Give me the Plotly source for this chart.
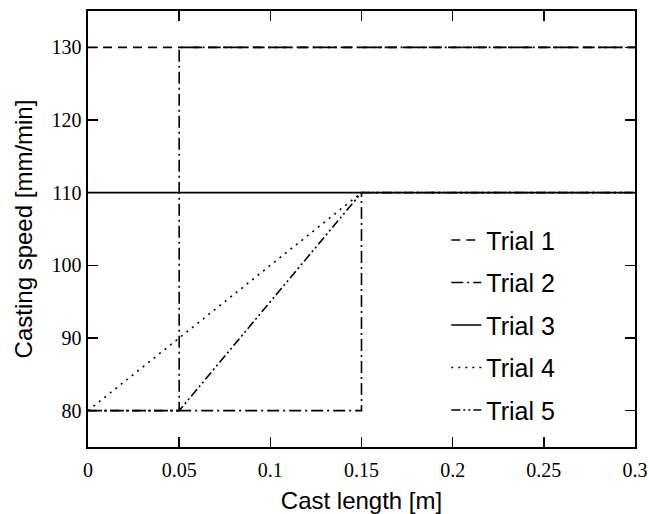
import plotly.graph_objects as go

# Data
trial1_x = [0, 0.3]
trial1_y = [130, 130]
trial2_x = [0, 0.05, 0.05, 0.3]
trial2_y = [80, 80, 130, 130]
trial3_x = [0, 0.3]
trial3_y = [110, 110]
trial4_x = [0, 0.15, 0.3]
trial4_y = [80, 110, 110]
trial5_x = [0, 0.05, 0.15, 0.3]
trial5_y = [80, 80, 110, 110]
step_x = [0.05, 0.15, 0.15]
step_y = [80, 80, 110]

x_ticks = [0, 0.05, 0.1, 0.15, 0.2, 0.25, 0.3]
x_ticklabels = ["0", "0.05", "0.1", "0.15", "0.2", "0.25", "0.3"]
y_ticks = [80, 90, 100, 110, 120, 130]

SERIF = "Liberation Serif, Times New Roman, serif"
SANS = "Liberation Sans, Arial, sans-serif"

fig = go.Figure()
lw = 1.6
dashdot = "12px,4px,2px,4px"
fig.add_trace(go.Scatter(x=trial1_x, y=trial1_y, mode="lines", name="Trial 1", legendgroup="t1",
                         line=dict(color="black", width=lw, dash="9px,6px")))
fig.add_trace(go.Scatter(x=trial2_x, y=trial2_y, mode="lines", name="Trial 2", legendgroup="t2",
                         line=dict(color="black", width=lw, dash=dashdot)))
fig.add_trace(go.Scatter(x=trial3_x, y=trial3_y, mode="lines", name="Trial 3", legendgroup="t3",
                         line=dict(color="black", width=lw)))
fig.add_trace(go.Scatter(x=trial4_x, y=trial4_y, mode="lines", name="Trial 4", legendgroup="t4",
                         line=dict(color="black", width=lw, dash="2px,5px")))
fig.add_trace(go.Scatter(x=trial5_x, y=trial5_y, mode="lines", name="Trial 5", legendgroup="t5",
                         line=dict(color="black", width=lw, dash="9px,3px,2px,3px,2px,3px")))
fig.add_trace(go.Scatter(x=step_x, y=step_y, mode="lines", showlegend=False, legendgroup="t6",
                         line=dict(color="black", width=lw, dash=dashdot)))

axis_common = dict(
    showline=True, linecolor="black", linewidth=1.6, mirror="ticks",
    ticks="inside", ticklen=10, tickcolor="black", tickwidth=1.4,
    showgrid=False, zeroline=False, automargin=False,
    tickfont=dict(family=SERIF, size=20, color="black"),
)

fig.update_layout(
    width=649, height=514,
    margin=dict(l=88, r=14, t=11, b=67),
    plot_bgcolor="white", paper_bgcolor="white",
    hovermode=False,
    xaxis=dict(range=[0, 0.3], tickvals=x_ticks, ticktext=x_ticklabels,
               ticklabelstandoff=4,
               title=dict(text="Cast length [m]", standoff=15,
                          font=dict(family=SANS, size=24, color="black")),
               **axis_common),
    yaxis=dict(range=[75, 135], tickvals=y_ticks,
               ticklabelstandoff=1,
               title=dict(text="Casting speed [mm/min]", standoff=12,
                          font=dict(family=SANS, size=24, color="black")),
               **axis_common),
    legend=dict(x=0.655, y=0.527, xanchor="left", yanchor="top",
                bgcolor="rgba(0,0,0,0)", tracegroupgap=7,
                font=dict(family=SANS, size=25, color="black")),
)

post = (
    "document.documentElement.style.margin='0';"
    "document.documentElement.style.overflow='hidden';"
    "document.body.style.margin='0';"
    "document.body.style.overflow='hidden';"
)

fig.write_html(
    "out.html",
    config={"displayModeBar": False, "staticPlot": True},
    post_script=post,
)
